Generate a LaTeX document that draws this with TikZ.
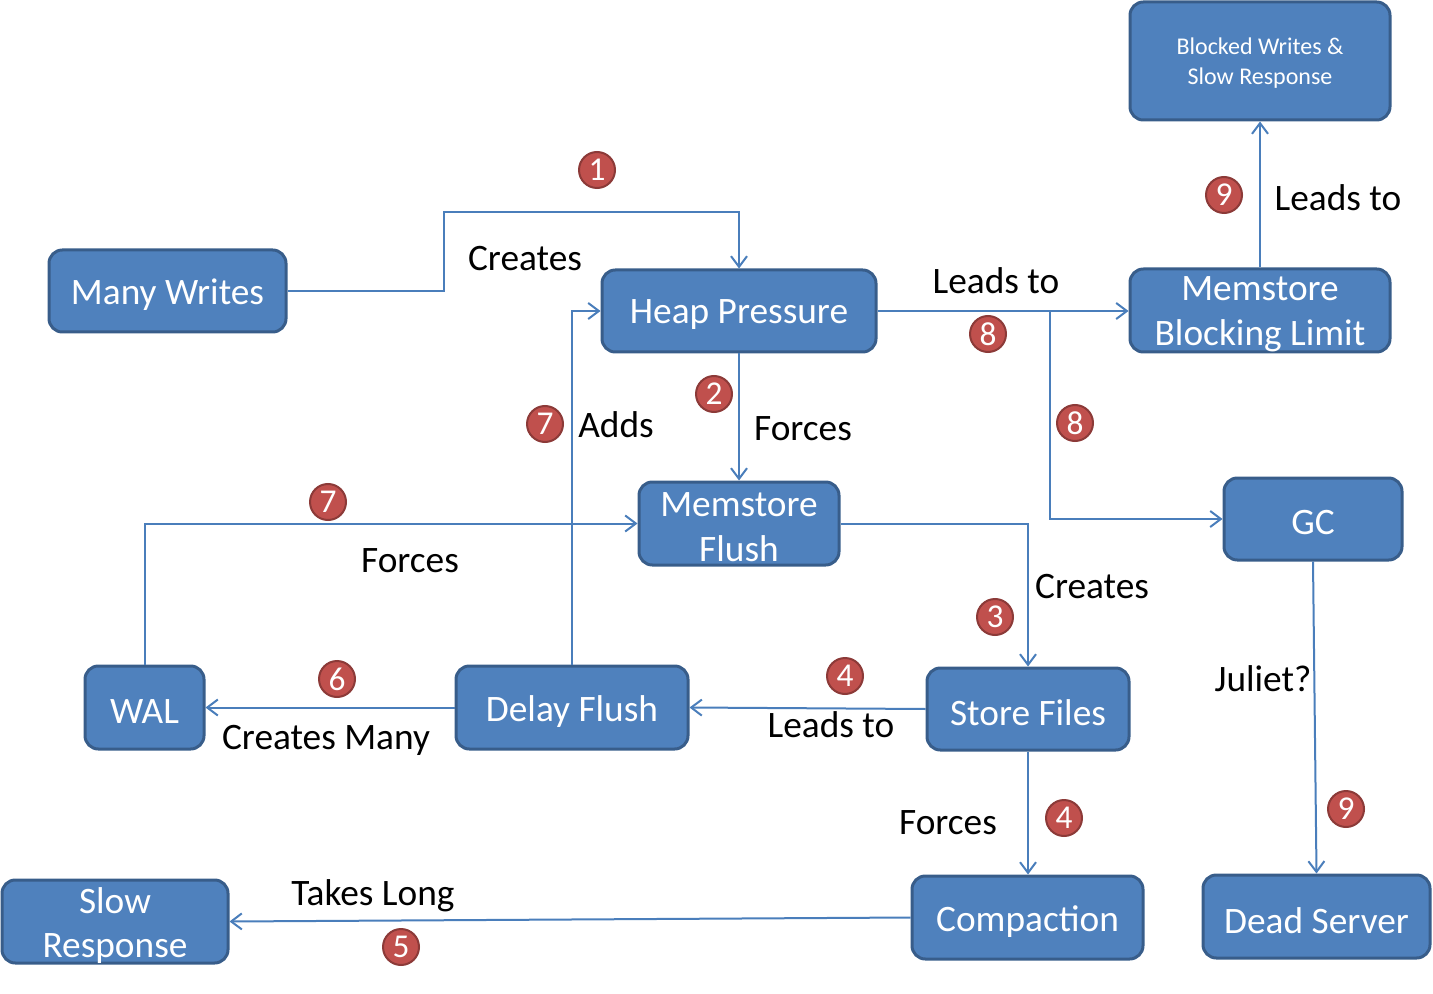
\documentclass[tikz,border=0pt]{standalone}
\usepackage{fontspec}
\setmainfont{Carlito}
\usetikzlibrary{arrows.meta}
\definecolor{boxfill}{HTML}{4F81BD}
\definecolor{boxline}{HTML}{385D8A}
\definecolor{linkc}{HTML}{4A7EBB}
\definecolor{numfill}{HTML}{C0504D}
\definecolor{numline}{HTML}{8C3A38}
\tikzset{
  box/.style={draw=boxline, fill=boxfill, line width=2.25pt, rounded corners=10pt, inner sep=0pt},
  boxtext/.style={text=white, font=\fontsize{28}{33.6}\selectfont, align=center, inner sep=0pt, yshift=-3pt},
  smalltext/.style={text=white, font=\fontsize{18}{22.5}\selectfont, align=center, inner sep=0pt, yshift=-1.5pt},
  lbl/.style={text=black, font=\fontsize{28}{33.6}\selectfont, inner sep=0pt, yshift=-0.75pt},
  num/.style={circle, draw=numline, fill=numfill, line width=1.5pt, minimum size=27pt, inner sep=0pt, text=white, font=\fontsize{25}{25}\selectfont},
  arr/.style={draw=linkc, line width=1.5pt, -{Straight Barb[length=8pt,width=12pt]}},
}
\begin{document}
\begin{tikzpicture}[x=0.75pt,y=-0.75pt]
\useasboundingbox (0,0) rectangle (1433,994);
% boxes
\node[box, minimum width=177.75pt, minimum height=61.5pt, label={[boxtext]center:Many Writes}] (many) at (167.5,291) {};
\node[box, minimum width=205.5pt, minimum height=61.5pt, label={[boxtext]center:Heap Pressure}] (heap) at (739,311) {};
\node[box, minimum width=195pt, minimum height=62.25pt, label={[boxtext]center:Memstore\\Blocking Limit}] (mbl) at (1260,310.5) {};
\node[box, minimum width=195pt, minimum height=88.5pt, label={[smalltext]center:Blocked Writes \&\\Slow Response}] (blocked) at (1260,61) {};
\node[box, minimum width=150pt, minimum height=62.25pt, label={[boxtext]center:Memstore\\Flush}] (mflush) at (739,523.5) {};
\node[box, minimum width=133.5pt, minimum height=61.5pt, label={[boxtext]center:GC}] (gc) at (1313,519) {};
\node[box, minimum width=89.25pt, minimum height=62.25pt, label={[boxtext]center:WAL}] (wal) at (144.5,707.5) {};
\node[box, minimum width=174pt, minimum height=62.25pt, label={[boxtext]center:Delay Flush}] (delay) at (572,707.5) {};
\node[box, minimum width=151.5pt, minimum height=61.5pt, label={[boxtext]center:Store Files}] (sf) at (1028,709) {};
\node[box, minimum width=173.25pt, minimum height=62.25pt, label={[boxtext]center:Compaction}] (comp) at (1027.5,917.5) {};
\node[box, minimum width=169.5pt, minimum height=62.25pt, label={[boxtext]center:Slow\\Response}] (slow) at (115,921.5) {};
\node[box, minimum width=170.25pt, minimum height=62.25pt, label={[boxtext]center:Dead Server}] (dead) at (1316.5,916.5) {};
% connectors
\coordinate (c1) at (444,212);
\draw[arr] (many.east) -| (c1) -| (heap.north);
\draw[arr] (heap.south) -- (mflush.north);
\draw[arr] (heap.east) -- (heap.east -| mbl.west);
\coordinate (br) at (1050,311);
\draw[arr] (br) |- (gc.west);
\draw[arr] (mbl.north) -- (blocked.south);
\draw[arr] (mflush.east) -| (sf.north);
\draw[arr] (sf.west) -- (delay.east);
\draw[arr] (sf.south) -- (sf.south |- comp.north);
\draw[arr] (comp.west) -- (slow.east);
\draw[arr] (delay.west) -- (wal.east);
\draw[arr] (delay.north) |- (heap.west);
\draw[arr] (wal.north) |- (mflush.west);
\draw[arr] (gc.south) -- (dead.north);
% labels
\node[lbl] (l1) at (525,258) {Creates};
\node[lbl] (l2) at (803,428) {Forces};
\node[lbl] (l3) at (996,280) {Leads to};
\node[lbl] (l4) at (1338,197) {Leads to};
\node[lbl] (l5) at (1092,586) {Creates};
\node[lbl] (l6) at (831,724) {Leads to};
\node[lbl] (l7) at (948,822) {Forces};
\node[lbl] (l8) at (373,895) {Takes Long};
\node[lbl] (l9) at (326,739) {Creates Many};
\node[lbl] (l10) at (616,424) {Adds};
\node[lbl] (l11) at (410,560) {Forces};
\node[lbl] (l12) at (1263,678) {Juliet?};
% numbers
\node[num] (n1) at (597,170) {1};
\node[num] (n2) at (714,394) {2};
\node[num] (n8a) at (988,334) {8};
\node[num] (n8b) at (1075,423) {8};
\node[num] (n9a) at (1224,195) {9};
\node[num] (n3) at (995,617) {3};
\node[num] (n4a) at (845,676) {4};
\node[num] (n4b) at (1064,818) {4};
\node[num] (n5) at (401,947) {5};
\node[num] (n6) at (337,679) {6};
\node[num] (n7a) at (545,424) {7};
\node[num] (n7b) at (328,502) {7};
\node[num] (n9b) at (1346,809) {9};
\end{tikzpicture}
\end{document}
